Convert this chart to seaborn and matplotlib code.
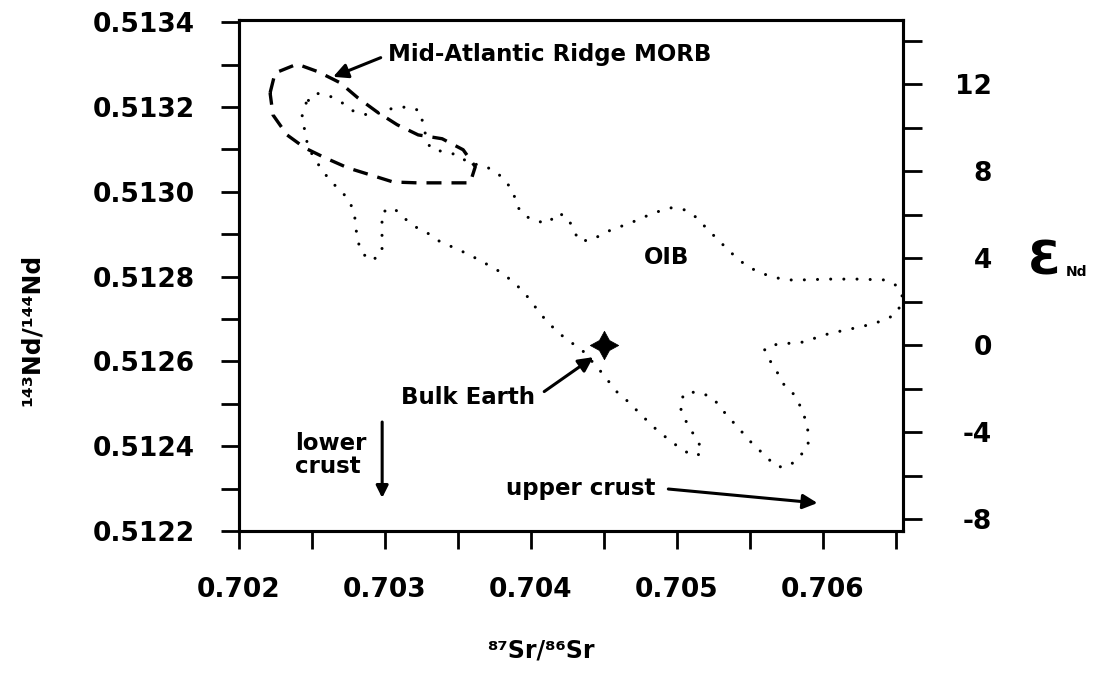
import numpy as np
import pandas as pd
import matplotlib
matplotlib.use("Agg")
import matplotlib.pyplot as plt
import seaborn as sns
from matplotlib.ticker import FixedLocator, FixedFormatter

# ---------------- data ----------------
morb_sr = [0.702213, 0.702247, 0.702398, 0.702542, 0.702693, 0.702816, 0.702947,
           0.703084, 0.703228, 0.703392, 0.703536, 0.703619, 0.703584, 0.703399,
           0.703221, 0.703056, 0.702898, 0.702748, 0.702590, 0.702453, 0.702329,
           0.702233]
morb_nd = [0.513233, 0.513280, 0.513301, 0.513283, 0.513257, 0.513221, 0.513188,
           0.513158, 0.513134, 0.513125, 0.513099, 0.513059, 0.513021, 0.513021,
           0.513021, 0.513023, 0.513040, 0.513056, 0.513080, 0.513103, 0.513134,
           0.513181]

oib_sr = [0.70246, 0.70243, 0.70245, 0.70247, 0.70251, 0.70256, 0.70262, 0.70269,
          0.70275, 0.70279, 0.70280, 0.70281, 0.70284, 0.70291, 0.70298, 0.70298,
          0.70298, 0.70298, 0.70306, 0.70312, 0.70321, 0.70329, 0.70337, 0.70346,
          0.70355, 0.70363, 0.70372, 0.70380, 0.70388, 0.70395, 0.70401, 0.70406,
          0.70412, 0.70419, 0.70427, 0.70435, 0.70447, 0.70453, 0.70459, 0.70466,
          0.70473, 0.70480, 0.70487, 0.70494, 0.70502, 0.70511, 0.70517, 0.70515,
          0.70510, 0.70505, 0.70502, 0.70505, 0.70514, 0.70524, 0.70530, 0.70535,
          0.70542, 0.70548, 0.70555, 0.70562, 0.70569, 0.70577, 0.70584, 0.70590,
          0.70590, 0.70588, 0.70585, 0.70580, 0.70573, 0.70569, 0.70564, 0.70560,
          0.70569, 0.70579, 0.70588, 0.70597, 0.70606, 0.70616, 0.70625, 0.70634,
          0.70644, 0.70651, 0.70655, 0.70651, 0.70643, 0.70624, 0.70604, 0.70585,
          0.70575, 0.70566, 0.70557, 0.70548, 0.70541, 0.70534, 0.70527, 0.70520,
          0.70514, 0.70506, 0.70496, 0.70486, 0.70478, 0.70468, 0.70459, 0.70450,
          0.70442, 0.70433, 0.70429, 0.70425, 0.70418, 0.70412, 0.70403, 0.70395,
          0.70390, 0.70388, 0.70382, 0.70376, 0.70367, 0.70358, 0.70350, 0.70340,
          0.70331, 0.70328, 0.70326, 0.70324, 0.70316, 0.70306, 0.70297, 0.70288,
          0.70278, 0.70271, 0.70262, 0.70252]
oib_nd = [0.513209, 0.513176, 0.513146, 0.513110, 0.513082, 0.513056, 0.513028, 0.513004,
          0.512983, 0.512950, 0.512919, 0.512889, 0.512856, 0.512837, 0.512856, 0.512889,
          0.512919, 0.512952, 0.512962, 0.512941, 0.512917, 0.512903, 0.512884, 0.512870,
          0.512856, 0.512842, 0.512825, 0.512809, 0.512787, 0.512764, 0.512738, 0.512714,
          0.512691, 0.512667, 0.512646, 0.512627, 0.512580, 0.512554, 0.512528, 0.512507,
          0.512483, 0.512459, 0.512436, 0.512417, 0.512396, 0.512377, 0.512382, 0.512410,
          0.512436, 0.512467, 0.512495, 0.512525, 0.512528, 0.512516, 0.512492, 0.512469,
          0.512445, 0.512419, 0.512396, 0.512372, 0.512351, 0.512353, 0.512375, 0.512400,
          0.512434, 0.512464, 0.512492, 0.512523, 0.512547, 0.512573, 0.512601, 0.512629,
          0.512641, 0.512643, 0.512646, 0.512658, 0.512667, 0.512674, 0.512681, 0.512688,
          0.512700, 0.512714, 0.512750, 0.512778, 0.512792, 0.512794, 0.512794, 0.512792,
          0.512792, 0.512799, 0.512809, 0.512825, 0.512844, 0.512867, 0.512891, 0.512915,
          0.512938, 0.512957, 0.512962, 0.512952, 0.512941, 0.512926, 0.512915, 0.512903,
          0.512886, 0.512884, 0.512912, 0.512941, 0.512950, 0.512926, 0.512931, 0.512945,
          0.512969, 0.513000, 0.513028, 0.513047, 0.513063, 0.513066, 0.513087, 0.513094,
          0.513103, 0.513132, 0.513162, 0.513191, 0.513200, 0.513198, 0.513186, 0.513181,
          0.513191, 0.513209, 0.513226, 0.513233]

bulk_sr = [0.7045]
bulk_nd = [0.512638]
chur_nd = 0.512638

x_major = [0.702, 0.703, 0.704, 0.705, 0.706]
x_labels = ["0.702", "0.703", "0.704", "0.705", "0.706"]
x_minor = [0.7025, 0.7035, 0.7045, 0.7055, 0.7065]
y_major = [0.5122, 0.5124, 0.5126, 0.5128, 0.5130, 0.5132, 0.5134]
y_labels = ["0.5122", "0.5124", "0.5126", "0.5128", "0.5130", "0.5132", "0.5134"]
y_minor = [0.5123, 0.5125, 0.5127, 0.5129, 0.5131, 0.5133]
eps_major = [-8, -4, 0, 4, 8, 12]
eps_labels = ["-8", "-4", "0", "4", "8", "12"]
eps_minor = [-6, -2, 2, 6, 10, 14]

# ---------------- style ----------------
sns.set_theme(style="ticks")
plt.rcParams["font.family"] = ["DejaVu Sans"]
plt.rcParams["font.weight"] = "bold"
plt.rcParams["axes.linewidth"] = 2.2
plt.rcParams["text.color"] = "black"
plt.rcParams["axes.labelcolor"] = "black"
plt.rcParams["xtick.color"] = "black"
plt.rcParams["ytick.color"] = "black"

W, H = 1093, 675
fig = plt.figure(figsize=(W / 100, H / 100), dpi=100)
fig.patch.set_facecolor("white")
ax = fig.add_axes([239 / W, 1 - 531 / H, 664 / W, 511 / H])

xlim = (0.702, 0.70655)
ylim = (0.5122, 0.513405)

morb_df = pd.DataFrame({"sr": morb_sr + morb_sr[:1], "nd": morb_nd + morb_nd[:1]})
oib_df = pd.DataFrame({"sr": oib_sr + oib_sr[:1], "nd": oib_nd + oib_nd[:1]})
bulk_df = pd.DataFrame({"sr": bulk_sr, "nd": bulk_nd})

sns.lineplot(data=oib_df, x="sr", y="nd", sort=False, estimator=None, ax=ax,
             color="black", lw=2.2, linestyle=(0, (0.01, 4.3)),
             dash_capstyle="round", clip_on=False)
sns.lineplot(data=morb_df, x="sr", y="nd", sort=False, estimator=None, ax=ax,
             color="black", lw=2.4, linestyle=(0, (4.5, 3.0)))
sns.scatterplot(data=bulk_df, x="sr", y="nd", ax=ax, marker=(4, 1, 0),
                s=420, color="black", edgecolor="black", linewidth=0.5, zorder=5)

ax.set_xlim(*xlim)
ax.set_ylim(*ylim)
ax.set_xlabel("")
ax.set_ylabel("")

ax.xaxis.set_major_locator(FixedLocator(x_major))
ax.xaxis.set_major_formatter(FixedFormatter(x_labels))
ax.xaxis.set_minor_locator(FixedLocator(x_minor))
ax.yaxis.set_major_locator(FixedLocator(y_major))
ax.yaxis.set_major_formatter(FixedFormatter(y_labels))
ax.yaxis.set_minor_locator(FixedLocator(y_minor))
ax.tick_params(axis="both", which="both", direction="out", length=13, width=2,
               color="black", labelcolor="black", labelsize=19)
ax.tick_params(axis="y", which="both", pad=19)
ax.tick_params(axis="x", which="both", pad=20)
for sp in ax.spines.values():
    sp.set_visible(True)
    sp.set_linewidth(2.2)
    sp.set_color("black")

# right epsilon-Nd axis
ax2 = ax.twinx()
ax2.set_ylim((ylim[0] / chur_nd - 1) * 1e4, (ylim[1] / chur_nd - 1) * 1e4)
ax2.yaxis.set_major_locator(FixedLocator(eps_major))
ax2.yaxis.set_major_formatter(FixedFormatter(eps_labels))
ax2.yaxis.set_minor_locator(FixedLocator(eps_minor))
ax2.tick_params(axis="y", which="both", direction="out", length=14, width=2,
                color="black", labelcolor="black", labelsize=19, pad=50)
for t in ax2.get_yticklabels():
    t.set_horizontalalignment("right")
for sp in ax2.spines.values():
    sp.set_linewidth(2.2)
    sp.set_color("black")

# ---------------- annotations ----------------
fs = 16.5
arrow = dict(arrowstyle="-|>", color="black", lw=2.2, mutation_scale=22,
             shrinkA=3, shrinkB=0)

ax.annotate("Mid-Atlantic Ridge MORB", xy=(0.702645, 0.513271),
            xytext=(0.70302, 0.513323), ha="left", va="center", fontsize=fs,
            fontweight="bold", color="black", arrowprops=dict(arrow, relpos=(0, 0.5)))
ax.text(0.704929, 0.512844, "OIB", ha="center", va="center", fontsize=fs,
        fontweight="bold", color="black")
ax.annotate("Bulk Earth", xy=(0.704428, 0.512610), xytext=(0.704030, 0.512514),
            ha="right", va="center", fontsize=fs, fontweight="bold", color="black",
            arrowprops=dict(arrow, relpos=(1, 0.5), shrinkA=5))
ax.text(0.702384, 0.512391, "lower", ha="left", va="baseline", fontsize=fs,
        fontweight="bold", color="black")
ax.text(0.702384, 0.512337, "crust", ha="left", va="baseline", fontsize=fs,
        fontweight="bold", color="black")
ax.annotate("", xy=(0.702981, 0.512278), xytext=(0.702981, 0.512457),
            arrowprops=dict(arrowstyle="-|>", color="black", lw=2.2,
                            mutation_scale=18, shrinkA=0, shrinkB=0))
ax.text(0.704853, 0.512285, "upper crust", ha="right", va="baseline",
        fontsize=fs, fontweight="bold", color="black")
ax.annotate("", xy=(0.705964, 0.512266), xytext=(0.704942, 0.512299),
            arrowprops=dict(arrowstyle="-|>", color="black", lw=2.2,
                            mutation_scale=22, shrinkA=0, shrinkB=0))

# axis titles
fig.text(32 / W, 1 - 330 / H, "¹⁴³Nd/¹⁴⁴Nd", rotation=90, ha="center",
         va="center", fontsize=18, fontweight="bold", color="black")
fig.text(541 / W, 1 - 650 / H, "⁸⁷Sr/⁸⁶Sr", ha="center", va="center",
         fontsize=17, fontweight="bold", color="black")
fig.text(1028 / W, 1 - 262 / H, "Ɛ", ha="left", va="center", fontsize=34,
         fontweight="bold", color="black")
fig.text(1066 / W, 1 - 272 / H, "Nd", ha="left", va="center", fontsize=10,
         fontweight="bold", color="black")

fig.savefig("out.png", dpi=100, facecolor="white")
